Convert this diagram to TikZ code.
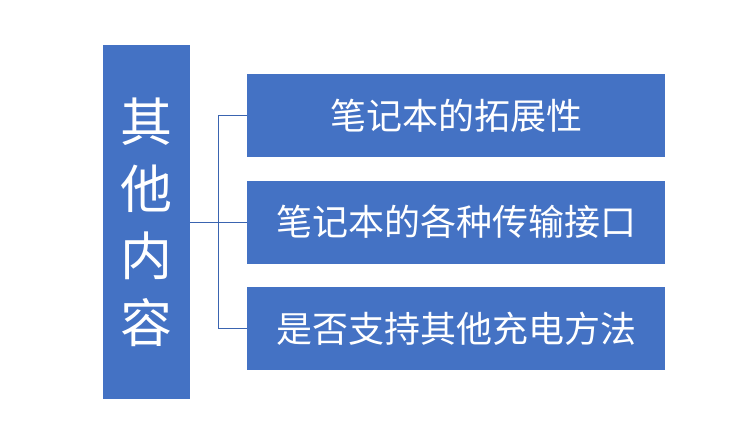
\documentclass[tikz,border=0pt]{standalone}
\usepackage{fontspec}
\newfontfamily\cjk{Noto Sans CJK SC}
\definecolor{boxblue}{HTML}{4472C4}
\definecolor{lineblue}{HTML}{3A64B0}
\tikzset{
  topicbox/.style={rectangle,fill=boxblue,text=white,inner sep=0pt,
    font=\cjk\fontsize{36}{40}\selectfont},
  branch/.style={draw=lineblue,line width=0.9pt}
}
\begin{document}
\begin{tikzpicture}[x=1pt,y=-1pt]
  \useasboundingbox (0,0) rectangle (730,436);
  \node[topicbox,minimum width=87pt,minimum height=354pt,align=center,
    font=\cjk\fontsize{52}{67}\selectfont] (main) at (146.5,222) {其\\他\\内\\容};
  \node[topicbox,minimum width=418pt,minimum height=83pt] (expand) at (456,115.5) {笔记本的拓展性};
  \node[topicbox,minimum width=418pt,minimum height=83pt] (ports)  at (456,222)   {笔记本的各种传输接口};
  \node[topicbox,minimum width=418pt,minimum height=83pt] (charge) at (456,328.5) {是否支持其他充电方法};
  \coordinate (fork) at (218.5,222);
  \draw[branch] (main.east) -- (fork);
  \draw[branch] (expand.west) -| (fork);
  \draw[branch] (ports.west) -- (fork);
  \draw[branch] (charge.west) -| (fork);
\end{tikzpicture}
\end{document}
